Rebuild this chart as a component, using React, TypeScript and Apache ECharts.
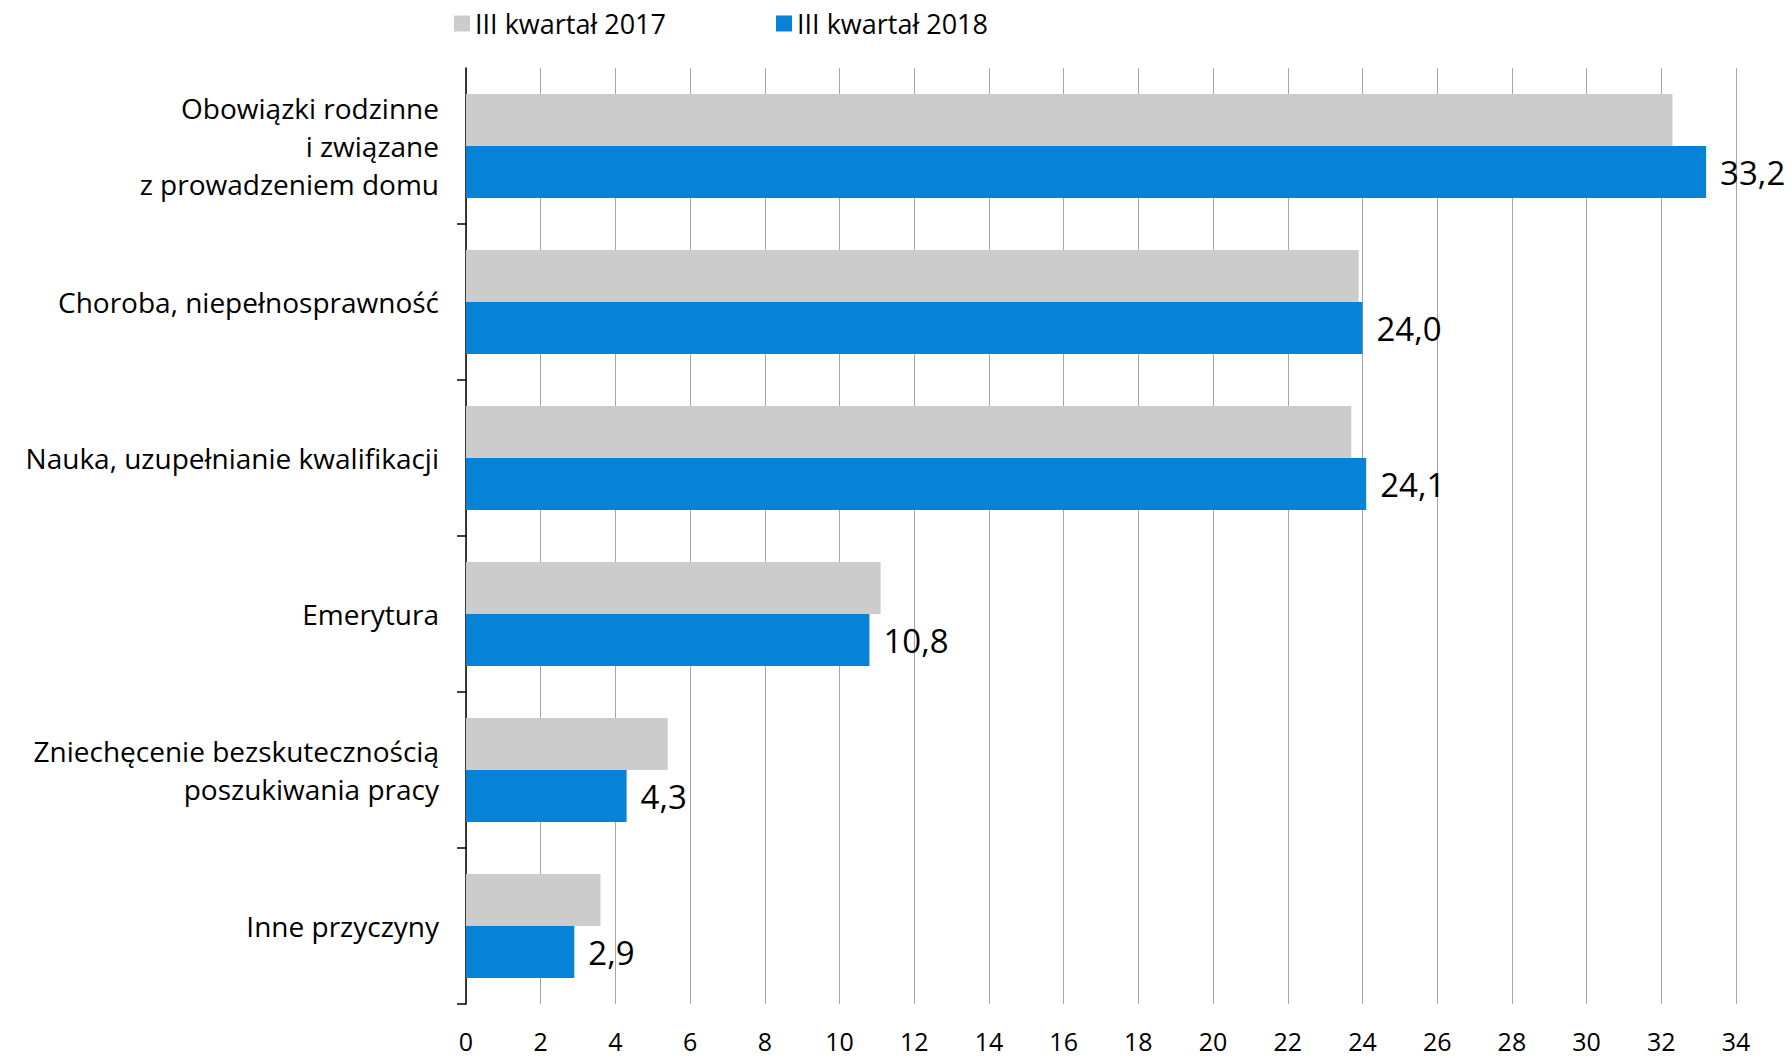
import React, { useEffect, useRef } from "react";
import * as echarts from "echarts";

const categories = [
  "Obowiązki rodzinne\ni związane\nz prowadzeniem domu",
  "Choroba, niepełnosprawność",
  "Nauka, uzupełnianie kwalifikacji",
  "Emerytura",
  "Zniechęcenie bezskutecznością\nposzukiwania pracy",
  "Inne przyczyny",
];
const seriesNames = ["III kwartał 2017", "III kwartał 2018"];
const values2017 = [32.3, 23.9, 23.7, 11.1, 5.4, 3.6];
const values2018 = [33.2, 24.0, 24.1, 10.8, 4.3, 2.9];

const FONT = "'Open Sans', sans-serif";

export default function App() {
  const ref = useRef<HTMLDivElement>(null);
  useEffect(() => {
    document.body.style.margin = "0";
    const chart = echarts.init(ref.current!, null, { renderer: "svg" });
    chart.setOption({
      animation: false,
      backgroundColor: "#ffffff",
      textStyle: { fontFamily: FONT },
      legend: {
        left: 449,
        top: 5,
        itemWidth: 16,
        itemHeight: 16,
        itemGap: 110,
        icon: "rect",
        textStyle: { fontSize: 27, color: "#000", fontFamily: FONT },
        data: seriesNames,
      },
      grid: { left: 466, right: 56, top: 68, bottom: 54, containLabel: false },
      xAxis: {
        type: "value",
        min: 0,
        max: 34,
        interval: 2,
        axisLine: { show: false },
        axisTick: { show: false },
        axisLabel: { fontSize: 25, color: "#000", margin: 24, fontFamily: FONT },
        splitLine: { show: true, lineStyle: { color: "#a6a6a6", width: 1 } },
      },
      yAxis: {
        type: "category",
        data: categories,
        inverse: true,
        axisLine: { show: true, lineStyle: { color: "#000", width: 1.5 } },
        axisTick: {
          show: true,
          length: 9,
          interval: (i: number) => i !== 0,
          lineStyle: { color: "#000", width: 1.5 },
        },
        axisLabel: {
          fontSize: 28,
          lineHeight: 38,
          color: "#000",
          margin: 27,
          align: "right",
          fontFamily: FONT,
        },
        splitLine: { show: false },
      },
      series: [
        {
          name: seriesNames[0],
          type: "bar",
          data: values2017,
          barWidth: 52,
          barGap: "0%",
          itemStyle: { color: "#cccccc" },
        },
        {
          name: seriesNames[1],
          type: "bar",
          data: values2018,
          barWidth: 52,
          barGap: "0%",
          itemStyle: { color: "#0683d6" },
          label: {
            show: true,
            position: "right",
            distance: 14,
            fontSize: 33,
            color: "#000",
            fontFamily: FONT,
            formatter: (p: any) => p.value.toFixed(1).replace(".", ","),
          },
        },
      ],
    });
    return () => chart.dispose();
  }, []);
  return <div ref={ref} style={{ width: 1792, height: 1058 }} />;
}
